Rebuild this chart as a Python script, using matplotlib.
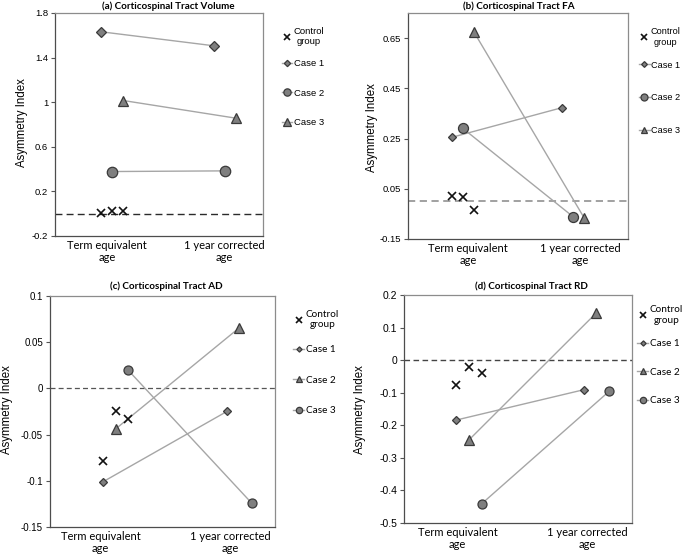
import matplotlib
matplotlib.use("Agg")
import matplotlib.pyplot as plt
import numpy as np

# ---------------- data ----------------
timepoints = ["Term equivalent\nage", "1 year corrected\nage"]

# (a) Volume
a_case1 = [1.632, 1.506]
a_case2 = [0.378, 0.384]
a_case3 = [1.015, 0.856]
a_control = [0.005, 0.023, 0.023]

# (b) FA
b_case1 = [0.255, 0.373]
b_case2 = [0.290, -0.061]
b_case3 = [0.674, -0.065]
b_control = [0.020, 0.017, -0.033]

# (c) AD
c_case1 = [-0.101, -0.025]
c_case2 = [-0.044, 0.0655]
c_case3 = [0.020, -0.124]
c_control = [-0.079, -0.025, -0.033]

# (d) RD
d_case1 = [-0.184, -0.091]
d_case2 = [-0.245, 0.145]
d_case3 = [-0.441, -0.096]
d_control = [-0.077, -0.022, -0.041]

titles = ["(a) Corticospinal Tract Volume", "(b) Corticospinal Tract FA",
          "(c) Corticospinal Tract AD", "(d) Corticospinal Tract RD"]
case_labels = ["Case 1", "Case 2", "Case 3"]
control_label = "Control\ngroup"

a_yticks = [-0.2, 0.2, 0.6, 1.0, 1.4, 1.8]
a_ylabels = ["-0.2", "0.2", "0.6", "1", "1.4", "1.8"]
b_yticks = [-0.15, 0.05, 0.25, 0.45, 0.65]
b_ylabels = ["-0.15", "0.05", "0.25", "0.45", "0.65"]
c_yticks = [-0.15, -0.1, -0.05, 0, 0.05, 0.1]
c_ylabels = ["-0.15", "-0.1", "-0.05", "0", "0.05", "0.1"]
d_yticks = [-0.5, -0.4, -0.3, -0.2, -0.1, 0, 0.1, 0.2]
d_ylabels = ["-0.5", "-0.4", "-0.3", "-0.2", "-0.1", "0", "0.1", "0.2"]

# ---------------- style ----------------
ARIAL = "Liberation Sans"
CAL = "Lato"
FILL = "#7f7f7f"
EDGE = "#3a3a3a"
LINEC = "#a6a6a6"

fig = plt.figure(figsize=(6.85, 5.55), dpi=100)

panels = [
    dict(rect=[0.0803, 0.5748, 0.3036, 0.4018], title_x=168/685, title_y=1-1/555,
         ylabel_x=22/685, ylabel_y=1-123/555,
         xlim=(0.496, 2.336), ylim=(-0.2, 1.8), yt=a_yticks, yl=a_ylabels, xt=[0.956, 1.99],
         cases=[a_case1, a_case2, a_case3], ctrl=a_control, tick_fs=6.8,
         markers=["D", "o", "^"], dash=("#2b2b2b", 1.0, (5, 3)),
         ctrl_anchor=(1.091, 0.895), case_anchor=(1.091, 0.641), lab_sp=2.15,
         leg_font=ARIAL, leg_fs=6.8, ms=(4.6, 7.5, 7.5)),
    dict(rect=[0.5956, 0.5694, 0.3212, 0.4072], title_x=519/685, title_y=1-1/555,
         ylabel_x=372/685, ylabel_y=1-128/555,
         xlim=(0.5, 2.5), ylim=(-0.15, 0.75), yt=b_yticks, yl=b_ylabels, xt=[1.045, 2.07],
         cases=[b_case1, b_case2, b_case3], ctrl=b_control, tick_fs=6.8,
         markers=["D", "o", "^"], dash=("#9a9a9a", 1.3, (4, 2.5)),
         ctrl_anchor=(1.052, 0.894), case_anchor=(1.052, 0.624), lab_sp=2.6,
         leg_font=ARIAL, leg_fs=6.6, ms=(4.2, 7.2, 7.0)),
    dict(rect=[0.0730, 0.0505, 0.3285, 0.4162], title_x=166/685, title_y=1-281/555,
         ylabel_x=7/685, ylabel_y=1-410/555,
         xlim=(0.47, 2.29), ylim=(-0.15, 0.1), yt=c_yticks, yl=c_ylabels, xt=[0.88, 1.93],
         cases=[c_case1, c_case2, c_case3], ctrl=c_control, tick_fs=7.0,
         markers=["D", "^", "o"], dash=("#555555", 0.9, (4, 2.5)),
         ctrl_anchor=(1.08, 0.898), case_anchor=(1.08, 0.636), lab_sp=2.15,
         leg_font=CAL, leg_fs=7.2, ms=(3.8, 6.5, 7.0)),
    dict(rect=[0.5898, 0.0577, 0.3328, 0.4108], title_x=531/685, title_y=1-281/555,
         ylabel_x=360/685, ylabel_y=1-410/555,
         xlim=(0.49, 2.28), ylim=(-0.5, 0.2), yt=d_yticks, yl=d_ylabels, xt=[0.91, 1.93],
         cases=[d_case1, d_case2, d_case3], ctrl=d_control, tick_fs=7.5,
         markers=["D", "^", "o"], dash=("#444444", 1.0, (4, 2.5)),
         ctrl_anchor=(1.024, 0.912), case_anchor=(1.024, 0.662), lab_sp=1.95,
         leg_font=CAL, leg_fs=7.2, ms=(3.8, 6.5, 7.0)),
]

offsets = [-0.1, 0.0, 0.1]
base_x = np.array([1.0, 2.0])

for i, p in enumerate(panels):
    ax = fig.add_axes(p["rect"])
    ax.set_xlim(*p["xlim"])
    ax.set_ylim(*p["ylim"])
    col, lw, dsh = p["dash"]
    ax.axhline(0, color=col, lw=lw, linestyle=(0, dsh), zorder=1)

    hc, = ax.plot(1.0 + np.array(offsets), p["ctrl"], linestyle="none", marker="x",
                  color="#111111", markersize=5.5, markeredgewidth=1.2, zorder=4,
                  label=control_label)
    case_handles = []
    for k, (vals, mk) in enumerate(zip(p["cases"], p["markers"])):
        ms = p["ms"][0] if mk == "D" else (p["ms"][1] if mk == "o" else p["ms"][2])
        h, = ax.plot(base_x + offsets[k], vals, color=LINEC, lw=1.0, marker=mk,
                     markersize=ms, markerfacecolor=FILL, markeredgecolor=EDGE,
                     markeredgewidth=0.9, zorder=3, label=case_labels[k])
        case_handles.append(h)

    ax.set_yticks(p["yt"])
    ax.set_yticklabels(p["yl"], fontfamily=ARIAL, fontsize=p["tick_fs"])
    ax.tick_params(axis="y", direction="out", length=3, width=0.8, color="#555555", pad=2)
    ax.set_xticks(p["xt"])
    ax.set_xticklabels(timepoints, fontfamily=CAL, fontsize=8, linespacing=1.05)
    ax.tick_params(axis="x", length=0, pad=3)

    for s in ["top", "right"]:
        ax.spines[s].set_color("#8c8c8c")
        ax.spines[s].set_linewidth(0.9)
    for s in ["left", "bottom"]:
        ax.spines[s].set_color("#4d4d4d")
        ax.spines[s].set_linewidth(0.9)

    fig.text(p["title_x"], p["title_y"], titles[i], ha="center", va="top",
             fontfamily=CAL, fontweight="bold", fontsize=7.1)
    fig.text(p["ylabel_x"], p["ylabel_y"], "Asymmetry Index", rotation=90, ha="center",
             va="center", fontfamily=ARIAL, fontsize=8.3)

    prop = {"family": p["leg_font"], "size": p["leg_fs"]}
    leg1 = ax.legend(handles=[hc], loc="center left", bbox_to_anchor=p["ctrl_anchor"],
                     frameon=False, handlelength=1.1, handletextpad=0.15, borderaxespad=0,
                     borderpad=0, numpoints=1, prop=prop, markerscale=0.8)
    for t in leg1.get_texts():
        t.set_multialignment("center")
    ax.add_artist(leg1)
    ax.legend(handles=case_handles, loc="center left", bbox_to_anchor=p["case_anchor"],
              frameon=False, handlelength=1.1, handletextpad=0.15, borderaxespad=0,
              borderpad=0, labelspacing=p["lab_sp"], numpoints=1, prop=prop,
              markerscale=0.7)

fig.savefig("out.png", dpi=100)
